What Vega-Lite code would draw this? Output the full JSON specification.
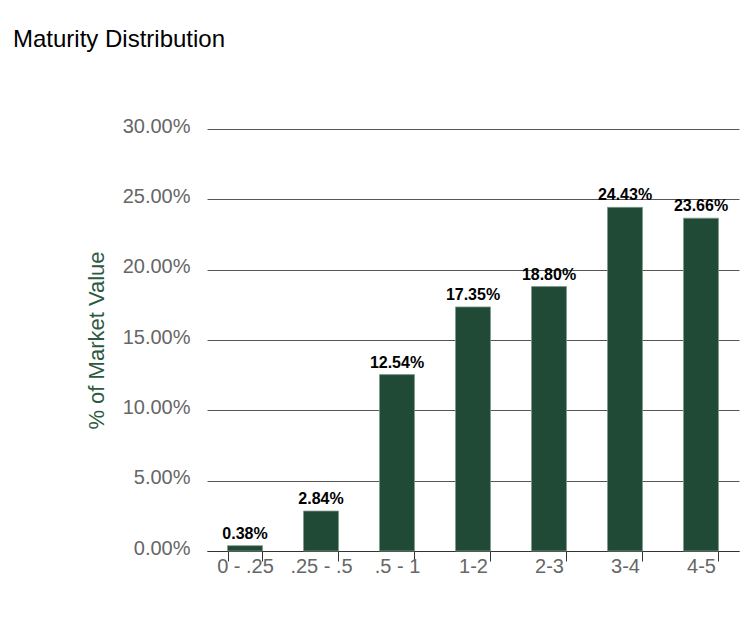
{
  "$schema": "https://vega.github.io/schema/vega-lite/v6.json",
  "autosize": "none",
  "width": 532,
  "height": 422,
  "padding": {"left": 207, "top": 129, "right": 6, "bottom": 88},
  "background": "white",
  "title": {
    "text": "Maturity Distribution",
    "anchor": "start",
    "frame": "group",
    "dx": -194,
    "offset": 64,
    "font": "Liberation Sans",
    "fontSize": 24,
    "fontWeight": "normal",
    "color": "#000000"
  },
  "config": {
    "view": {"stroke": null},
    "font": "Liberation Sans"
  },
  "data": {
    "values": [
      {"bucket": "0 - .25", "pct": 0.0038},
      {"bucket": ".25 - .5", "pct": 0.0284},
      {"bucket": ".5 - 1", "pct": 0.1254},
      {"bucket": "1-2", "pct": 0.1735},
      {"bucket": "2-3", "pct": 0.1880},
      {"bucket": "3-4", "pct": 0.2443},
      {"bucket": "4-5", "pct": 0.2366}
    ]
  },
  "encoding": {
    "x": {
      "field": "bucket",
      "type": "nominal",
      "sort": null,
      "scale": {"paddingInner": 0.54, "paddingOuter": 0.27},
      "axis": {
        "title": null,
        "labelAngle": 0,
        "labelFont": "Liberation Sans",
        "labelFontSize": 20,
        "labelColor": "#666666",
        "labelPadding": -5,
        "tickSize": 10,
        "tickColor": "#333333",
        "tickBand": "extent",
        "domainColor": "#333333",
        "grid": false
      }
    },
    "y": {
      "field": "pct",
      "type": "quantitative",
      "scale": {"domain": [0, 0.3], "nice": false},
      "axis": {
        "title": "% of Market Value",
        "titleColor": "#2b5a40",
        "titleFont": "Liberation Sans",
        "titleFontSize": 22,
        "titleFontWeight": "normal",
        "titlePadding": 14,
        "format": ".2%",
        "values": [0, 0.05, 0.1, 0.15, 0.2, 0.25, 0.3],
        "labelFont": "Liberation Sans",
        "labelFontSize": 20,
        "labelColor": "#666666",
        "labelPadding": 17,
        "labelOffset": -3,
        "ticks": false,
        "domain": false,
        "grid": true,
        "gridColor": "#555555",
        "gridWidth": 1
      }
    }
  },
  "layer": [
    {
      "mark": {"type": "bar", "color": "#214a36", "stroke": "#7d9a8a", "strokeWidth": 0.8}
    },
    {
      "mark": {
        "type": "text",
        "baseline": "bottom",
        "dy": -4,
        "font": "Liberation Sans",
        "fontSize": 16,
        "fontWeight": "bold",
        "color": "#000000"
      },
      "encoding": {
        "text": {"field": "pct", "type": "quantitative", "format": ".2%"}
      }
    }
  ]
}
